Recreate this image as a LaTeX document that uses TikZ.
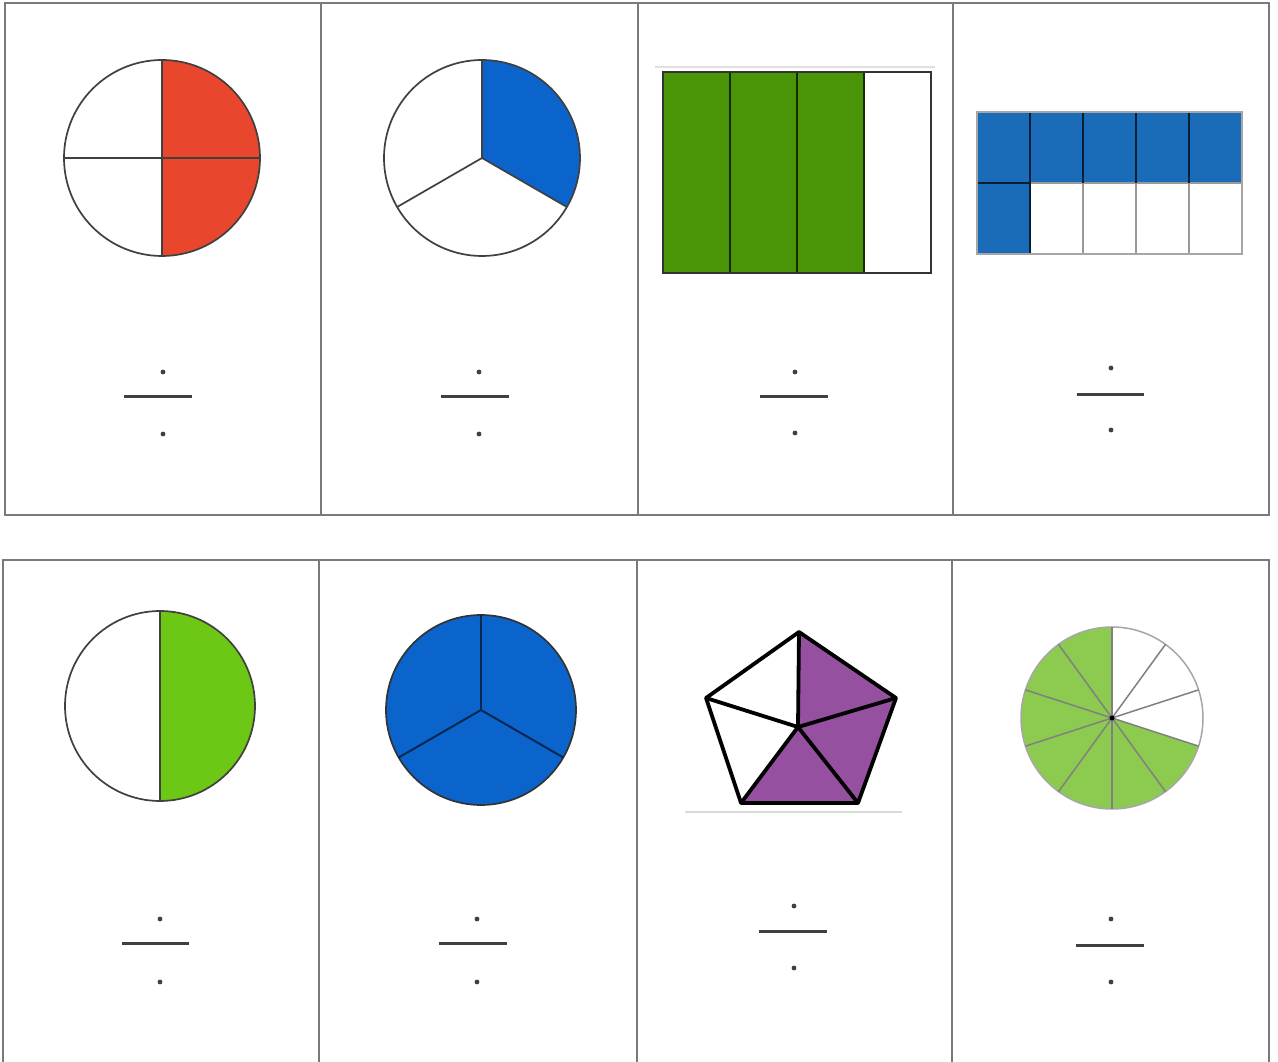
\documentclass[tikz,border=0pt]{standalone}
\definecolor{frame}{HTML}{7A7A7A}
\definecolor{redq}{HTML}{E8472E}
\definecolor{blueq}{HTML}{0A64CC}
\definecolor{greenq}{HTML}{4A9408}
\definecolor{bluegrid}{HTML}{1B6CB8}
\definecolor{limeq}{HTML}{6CC814}
\definecolor{purpleq}{HTML}{9650A0}
\definecolor{pieg}{HTML}{8CCB50}
\tikzset{
  framebox/.style={draw=frame, line width=2.2pt},
  outline/.style={draw=black!75, line width=1.7pt},
  fracline/.style={draw=black!75, line width=3pt},
  fracdot/.style={fill=black!75},
  pent/.style={draw=black, line width=3.8pt, line join=round}
}
\begin{document}
\begin{tikzpicture}[x=1pt,y=1pt]
\useasboundingbox (0,0) rectangle (1278,1061);
\clip (0,0) rectangle (1278,1061);
\fill[white] (0,0) rectangle (1278,1061);

% frames
\draw[framebox] (5,1058) rectangle (1269,546);
\foreach \x in {321,638,953} \draw[framebox] (\x,1058) -- (\x,546);
\draw[framebox] (3,-20) -- (3,501) -- (1269,501) -- (1269,-20);
\foreach \x in {319,637,952} \draw[framebox] (\x,501) -- (\x,-20);

% top 1: quarters, right half red
\coordinate (c1) at (162,903);
\fill[redq] (162,1001) arc[start angle=90,end angle=-90,radius=98] -- cycle;
\draw[outline] (c1) circle[radius=98];
\draw[outline] (64,903) -- (260,903);
\draw[outline] (162,1001) -- (162,805);

% top 2: thirds, one blue
\coordinate (c2) at (482,903);
\fill[blueq] (c2) -- ++(90:98) arc[start angle=90,end angle=-30,radius=98] -- cycle;
\draw[outline] (c2) circle[radius=98];
\foreach \a in {90,-30,210} \draw[outline] (c2) -- ++(\a:98);

% top 3: rectangle 3/4 green
\draw[black!12, line width=2.5pt] (655,994) -- (935,994);
\fill[greenq] (663,788) rectangle (864,989);
\foreach \x in {730,797,864} \draw[black!70!greenq, line width=2pt] (\x,788) -- (\x,989);
\draw[black!80, line width=2.2pt] (663,788) rectangle (931,989);

% top 4: 2x5 grid, 6 blue
\fill[bluegrid] (977,878) rectangle (1242,949);
\fill[bluegrid] (977,807) rectangle (1030,878);
\foreach \x in {1083,1136,1189} \draw[black!40, line width=2pt] (\x,807) -- (\x,878);
\draw[black!40, line width=2pt] (1030,878) -- (1242,878) -- (1242,807) -- (1030,807);
\draw[black!70!bluegrid, line width=2pt] (1030,807) -- (1030,949);
\foreach \x in {1083,1136,1189} \draw[black!70!bluegrid, line width=2pt] (\x,878) -- (\x,949);
\draw[black!70!bluegrid, line width=2pt] (977,878) -- (1030,878);
\draw[black!35, line width=1.5pt] (977,807) rectangle (1242,949);

% bottom 1: halves, right lime
\coordinate (c5) at (160,355);
\fill[limeq] (160,450) arc[start angle=90,end angle=-90,radius=95] -- cycle;
\draw[outline] (c5) circle[radius=95];
\draw[outline] (160,450) -- (160,260);

% bottom 2: thirds, all blue
\coordinate (c6) at (481,351);
\fill[blueq] (c6) circle[radius=95];
\draw[black!80, line width=1.7pt] (c6) circle[radius=95];
\foreach \a in {90,-30,210} \draw[black!60!blueq, line width=2pt] (c6) -- ++(\a:95);

% bottom 3: pentagon
\draw[black!15, line width=1.6pt] (685,249) -- (902,249);
\coordinate (pt) at (799,429);
\coordinate (pr) at (896,363);
\coordinate (pbr) at (858,258);
\coordinate (pbl) at (741,258);
\coordinate (pl) at (706,363);
\coordinate (pc) at (798,334);
\fill[purpleq] (pt) -- (pr) -- (pbr) -- (pbl) -- (pc) -- cycle;
\draw[pent] (pt) -- (pr) -- (pbr) -- (pbl) -- (pl) -- cycle;
\foreach \p in {pt,pr,pbr,pbl,pl} \draw[pent] (pc) -- (\p);

% bottom 4: tenths, 7 green
\coordinate (c8) at (1112,343);
\fill[pieg] (c8) -- ++(90:91) arc[start angle=90,end angle=342,radius=91] -- cycle;
\draw[black!35, line width=1.5pt] (c8) circle[radius=91];
\foreach \a in {90,54,...,-234} \draw[black!50, line width=1.5pt] (c8) -- ++(\a:91);
\fill[black] (c8) circle[radius=2.5];

% fraction blanks
\foreach \dx/\lx/\ly/\dt/\lw/\db in {163/158/664/689/68/627, 479/475/664/689/68/627, 795/794/664/689/68/628, 1111/1110/666/693/67/631, 160/155/117/142/67/79, 477/473/117/142/68/79, 794/793/129/155/68/93, 1111/1110/115/142/68/79}{
  \fill[fracdot] (\dx,\dt) circle[radius=2.4];
  \fill[fracdot] (\dx,\db) circle[radius=2.4];
  \draw[fracline] ({\lx-\lw/2},\ly) -- ({\lx+\lw/2},\ly);
}
\end{tikzpicture}
\end{document}
